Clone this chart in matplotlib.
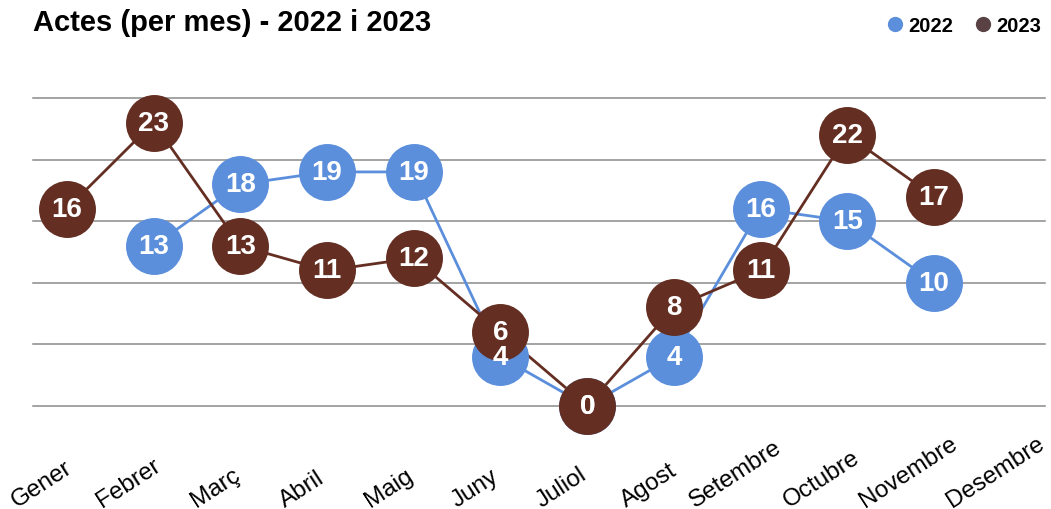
import numpy as np
import matplotlib.pyplot as plt
import matplotlib.transforms as mtransforms
from matplotlib.lines import Line2D

plt.rcParams['font.family'] = ['Liberation Sans', 'DejaVu Sans']

mesos = ['Gener', 'Febrer', 'Març', 'Abril', 'Maig', 'Juny', 'Juliol',
         'Agost', 'Setembre', 'Octubre', 'Novembre', 'Desembre']
actes_2022 = [np.nan, 13, 18, 19, 19, 4, 0, 4, 16, 15, 10, np.nan]
actes_2023 = [16, 23, 13, 11, 12, 6, 0, 8, 11, 22, 17, np.nan]
linies_y = [0, 5, 10, 15, 20, 25]

blau = '#5b8fdc'
marro = '#642f22'

fig = plt.figure(figsize=(10.51, 5.10), dpi=100)
fig.patch.set_facecolor('white')
ax = fig.add_axes([33/1051, 103/510, 1012/1051, 308/510])

x = np.arange(len(mesos))

# graella horitzontal
for g in linies_y:
    ax.axhline(g, color='#8a8a8a', lw=1.1, zorder=1, clip_on=False)

ax.plot(x, actes_2022, color=blau, lw=2, zorder=2, clip_on=False)
ax.plot(x, actes_2023, color=marro, lw=2, zorder=2, clip_on=False)
ax.plot(x, actes_2022, 'o', ms=41, color=blau, mec='none', zorder=3, clip_on=False)
ax.plot(x, actes_2023, 'o', ms=41, color=marro, mec='none', zorder=4, clip_on=False)

for serie, z in [(actes_2022, 5), (actes_2023, 6)]:
    for i, v in enumerate(serie):
        if not np.isnan(v):
            ax.text(i, v, str(int(v)), color='white', fontsize=20, fontweight='bold',
                    ha='center', va='center', zorder=z + 2)

ax.set_xlim(-0.39, 11.28)
ax.set_ylim(0, 25)
ax.set_yticks([])
ax.set_xticks([])
for s in ax.spines.values():
    s.set_visible(False)
ax.set_facecolor('white')

# etiquetes dels mesos, alineades per baix
trans = mtransforms.blended_transform_factory(ax.transData, fig.transFigure)
for i, m in enumerate(mesos):
    ax.text(i - 0.29, -0.004, m, transform=trans, rotation=33, ha='center', va='bottom',
            fontsize=17.5, clip_on=False)

fig.text(33/1051, 1 - 23/510, 'Actes (per mes) - 2022 i 2023', fontsize=21,
         fontweight='bold', ha='left', va='center')

handles = [Line2D([], [], ls='none', marker='o', ms=11, color=blau, mec='none'),
           Line2D([], [], ls='none', marker='o', ms=11, color='#5a4244', mec='none')]
fig.legend(handles, ['2022', '2023'], loc='center right', bbox_to_anchor=(1.0, 1 - 27/510),
           ncol=2, frameon=False, prop={'weight': 'bold', 'size': 14.5},
           handletextpad=0.15, columnspacing=1.0, handlelength=1.0, borderaxespad=0.1)

fig.savefig('out.png', dpi=100)
